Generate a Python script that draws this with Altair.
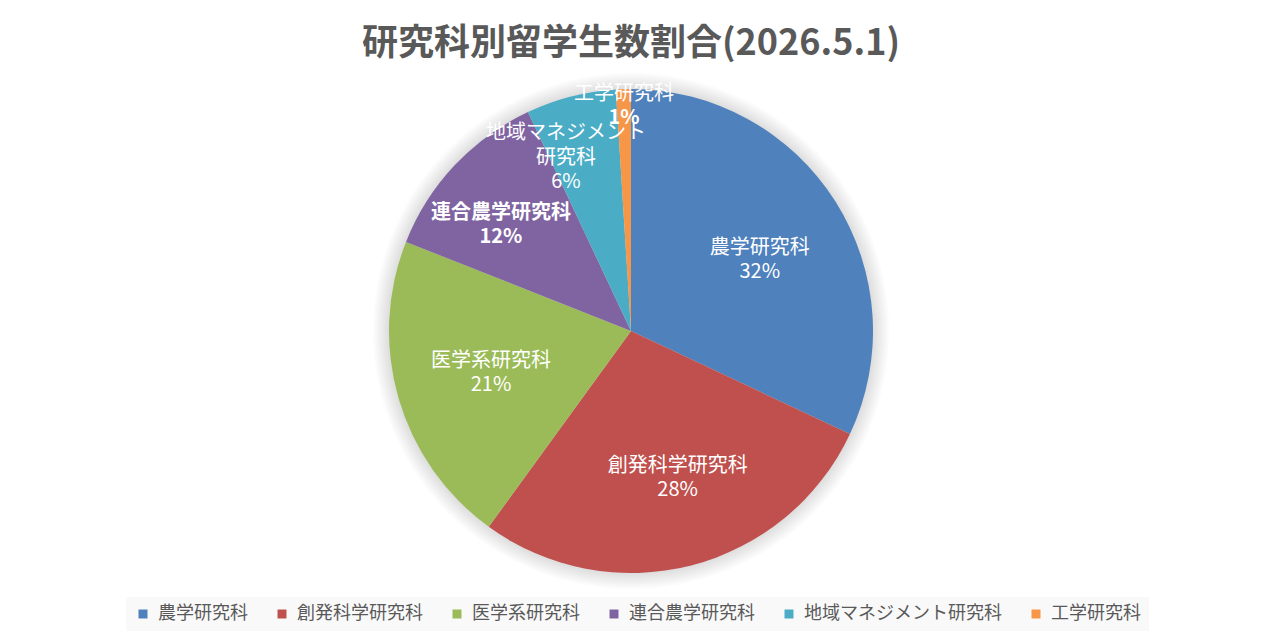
import altair as alt
import pandas as pd

# ---- data ----
names = ["農学研究科", "創発科学研究科", "医学系研究科", "連合農学研究科", "地域マネジメント研究科", "工学研究科"]
shares = [32, 28, 21, 12, 6, 1]  # percent
colors = ["#4F81BD", "#C0504D", "#9BBB59", "#8064A2", "#4BACC6", "#F79646"]

# ---- label layout / style settings (not data) ----
FONT = "Noto Sans CJK JP"
R = 242
label_radius = [147, 154, 146, 168, 174, 225]      # px from centre
label_shift = [1.0, -0.9, -0.1, -1.1, -2.1, 0.0]    # small angular nudge (share units)
label_top = ["", "", "", "", "地域マネジメント", ""]  # extra upper line of wrapped labels
label_last = ["農学研究科", "創発科学研究科", "医学系研究科", "連合農学研究科", "研究科", "工学研究科"]
bold_name = [False, False, False, True, False, False]
bold_pct = [False, False, False, True, False, True]

df = pd.DataFrame({
    "idx": list(range(len(names))),
    "name": names,
    "value": shares,
    "lr": label_radius,
    "shift": label_shift,
})
df["pct"] = [f"{v}%" for v in shares]
df["top_n"] = label_top
df["name_n"] = [("" if b else n) for n, b in zip(label_last, bold_name)]
df["name_b"] = [(n if b else "") for n, b in zip(label_last, bold_name)]
df["pct_n"] = [("" if b else p) for p, b in zip(df["pct"], bold_pct)]
df["pct_b"] = [(p if b else "") for p, b in zip(df["pct"], bold_pct)]

base = alt.Chart(df)

color_enc = alt.Color(
    "name:N",
    scale=alt.Scale(domain=names, range=colors),
    sort=names,
    legend=alt.Legend(
        title=None,
        orient="none",
        legendX=118,
        legendY=570,
        direction="horizontal",
        symbolType="square",
        symbolSize=81,
        symbolStrokeWidth=0,
        labelFont=FONT,
        labelFontSize=18,
        labelColor="#595959",
        labelOffset=6,
        labelLimit=400,
        columnPadding=25,
        fillColor="#f9f9f9",
        padding=8,
    ),
)

# soft shadow around the pie
shadow_df = pd.DataFrame({"value": [sum(shares)]})
shadows = [
    alt.Chart(shadow_df).mark_arc(outerRadius=R + k, color="#000000", opacity=0.017, stroke=None)
    .encode(theta=alt.Theta("value:Q", stack=True))
    for k in range(2, 17, 2)
]

arcs = base.mark_arc(outerRadius=R, stroke=None).encode(
    theta=alt.Theta("value:Q", stack=True),
    order=alt.Order("idx:Q", sort="ascending"),
    color=color_enc,
)

def text_layer(field, weight, baseline, dy):
    return base.transform_filter(
        f"datum.{field} != ''"
    ).transform_window(
        cum="sum(value)", sort=[alt.SortField("idx", order="ascending")], frame=[None, 0]
    ).transform_calculate(
        mid="datum.cum - datum.value / 2 + datum.shift"
    ).mark_text(
        font=FONT, fontSize=20, fontWeight=weight, color="white",
        baseline=baseline, align="center", dy=dy,
    ).encode(
        theta=alt.Theta("mid:Q", stack=None),
        radius=alt.Radius("lr:Q", scale=None),
        text=alt.Text(f"{field}:N"),
    )

def text_layer_full(field, weight, baseline, dy):
    # cumulative position computed on the full table, empty rows dropped afterwards
    return base.transform_window(
        cum="sum(value)", sort=[alt.SortField("idx", order="ascending")], frame=[None, 0]
    ).transform_filter(
        f"datum.{field} != ''"
    ).transform_calculate(
        mid="datum.cum - datum.value / 2 + datum.shift"
    ).mark_text(
        font=FONT, fontSize=20, fontWeight=weight, color="white",
        baseline=baseline, align="center", dy=dy,
    ).encode(
        theta=alt.Theta("mid:Q", stack=None),
        radius=alt.Radius("lr:Q", scale=None),
        text=alt.Text(f"{field}:N"),
    )

layers = shadows + [
    arcs,
    text_layer_full("top_n", "normal", "bottom", -27),
    text_layer_full("name_n", "normal", "bottom", -2),
    text_layer_full("name_b", "bold", "bottom", -2),
    text_layer_full("pct_n", "normal", "top", 2),
    text_layer_full("pct_b", "bold", "top", 2),
]

chart = alt.layer(*layers).properties(
    width=1246,
    height=608,
    padding={"left": 0, "right": 0, "top": 19, "bottom": 0},
    autosize=alt.AutoSizeParams(type="none"),
    title=alt.Title(
        "研究科別留学生数割合(2026.5.1)",
        font=FONT, fontSize=36, fontWeight="bold", color="#595959",
        anchor="middle", offset=-36,
    ),
).configure_view(stroke=None)

chart.save("out.html", embed_options={"renderer": "svg", "actions": False})
